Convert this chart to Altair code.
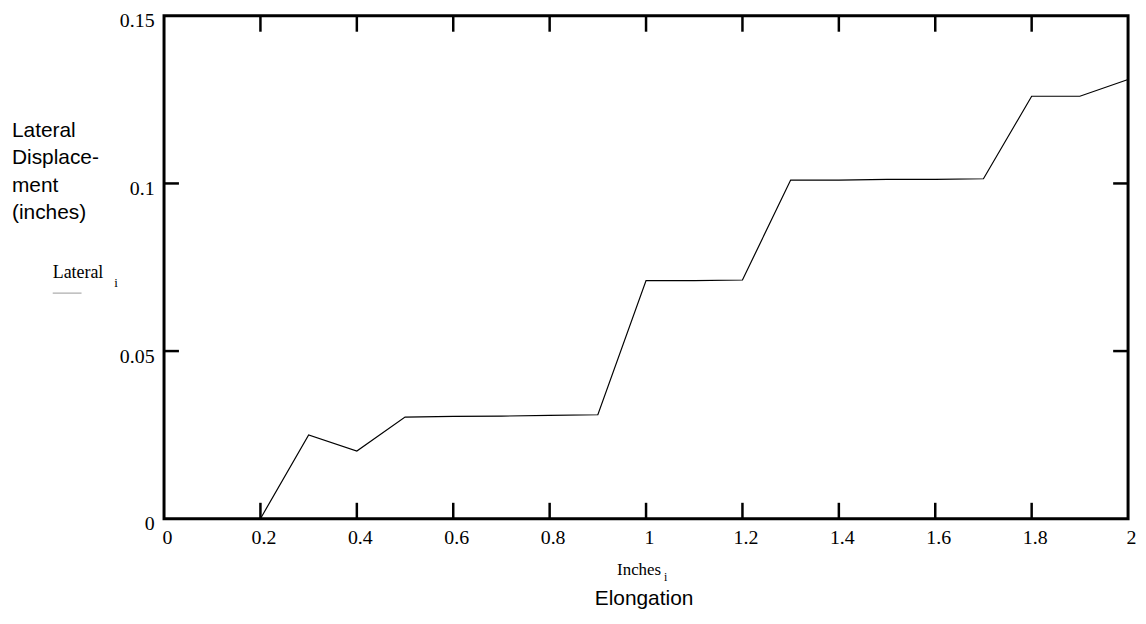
import altair as alt
import pandas as pd

# Data
elong = [0.0, 0.1, 0.2, 0.3, 0.4, 0.5, 0.6, 0.7, 0.8, 0.9, 1.0,
         1.1, 1.2, 1.3, 1.4, 1.5, 1.6, 1.7, 1.8, 1.9, 2.0]
lateral = [0.0, 0.0, 0.0, 0.025, 0.0202, 0.0303, 0.0305, 0.0306, 0.0308, 0.031, 0.071,
           0.071, 0.0712, 0.101, 0.101, 0.1012, 0.1012, 0.1014, 0.126, 0.126, 0.131]
x_ticks = [0, 0.2, 0.4, 0.6, 0.8, 1, 1.2, 1.4, 1.6, 1.8, 2]
x_inner_ticks = [0.2, 0.4, 0.6, 0.8, 1.0, 1.2, 1.4, 1.6, 1.8]
y_ticks = [0, 0.05, 0.1, 0.15]
y_inner_ticks = [0.05, 0.1]

W, H = 970, 506
TL = 16

df = pd.DataFrame({"x": elong, "y": lateral})
xt = pd.DataFrame({"x": x_inner_ticks})
yt = pd.DataFrame({"y": y_inner_ticks})

xscale = alt.Scale(domain=[0, 2], nice=False, zero=False)
yscale = alt.Scale(domain=[0, 0.15], nice=False, zero=False)

line = alt.Chart(df).mark_line(color="black", strokeWidth=1.2).encode(
    x=alt.X("x:Q", scale=xscale,
            axis=alt.Axis(values=x_ticks, format="~g", title=None, domain=False,
                          ticks=False, grid=False, labelPadding=9, labelFlush=False,
                          labelOffset=3)),
    y=alt.Y("y:Q", scale=yscale,
            axis=alt.Axis(values=y_ticks, format="~g", title=None, domain=False,
                          ticks=False, grid=False, labelPadding=10, labelFlush=False,
                          labelOffset=5)),
)

tick_style = dict(color="black", strokeWidth=2.5)
bottom_ticks = alt.Chart(xt).mark_rule(**tick_style).encode(
    x=alt.X("x:Q", scale=xscale), y=alt.value(H), y2=alt.value(H - TL))
top_ticks = alt.Chart(xt).mark_rule(**tick_style).encode(
    x=alt.X("x:Q", scale=xscale), y=alt.value(0), y2=alt.value(TL))
left_ticks = alt.Chart(yt).mark_rule(**tick_style).encode(
    y=alt.Y("y:Q", scale=yscale), x=alt.value(0), x2=alt.value(TL - 1))
right_ticks = alt.Chart(yt).mark_rule(**tick_style).encode(
    y=alt.Y("y:Q", scale=yscale), x=alt.value(W), x2=alt.value(W - TL + 1))

sans = "Liberation Sans"
serif = "Liberation Serif"

def txt(s, x, y, font, size, align="left", color="black"):
    return alt.Chart(pd.DataFrame({"t": [s]})).mark_text(
        font=font, fontSize=size, align=align, baseline="alphabetic", color=color
    ).encode(text="t:N", x=alt.value(x), y=alt.value(y))

ylab_lines = ["Lateral", "Displace-", "ment", "(inches)"]
ylab_layers = [txt(s, -153, 122 + i * 27.5, sans, 21) for i, s in enumerate(ylab_lines)]

lat_sym = txt("Lateral", -112, 264, serif, 18)
lat_sub = txt("i", -50, 273, serif, 13)
lat_rule = alt.Chart(pd.DataFrame({"a": [0]})).mark_rule(color="#999999", strokeWidth=1).encode(
    x=alt.value(-112), x2=alt.value(-83), y=alt.value(279))

inch_sym = txt("Inches", 478, 563, serif, 17, align="center")
inch_sub = txt("i", 503, 569, serif, 12)
elong_lab = txt("Elongation", 483, 593, sans, 21, align="center")

chart = alt.layer(
    line, bottom_ticks, top_ticks, left_ticks, right_ticks,
    *ylab_layers, lat_sym, lat_sub, lat_rule, inch_sym, inch_sub, elong_lab
).properties(
    width=W, height=H,
    autosize=alt.AutoSizeParams(type="none"),
    padding={"left": 157, "top": 6, "right": 10, "bottom": 90},
).configure_view(
    stroke="black", strokeWidth=3
).configure_axis(
    labelFont=serif, labelFontSize=20, labelColor="black"
)

chart.save("out.html", embed_options={"renderer": "svg", "actions": False})
